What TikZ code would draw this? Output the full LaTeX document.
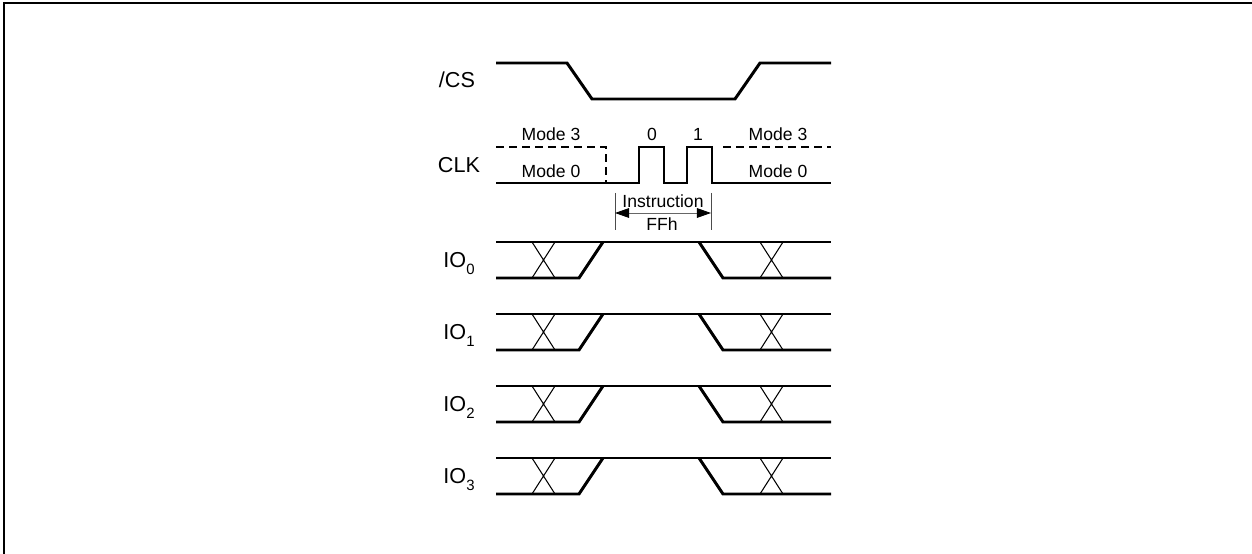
\documentclass[tikz,border=0pt]{standalone}
\usepackage{fontspec}
\setmainfont{Liberation Sans}
\usetikzlibrary{arrows.meta}

\newcommand{\lowsub}[1]{\raisebox{-4.3pt}{\fontsize{8.5}{10}\selectfont #1}}

\begin{document}
\begin{tikzpicture}[
  x=0.02cm, y=-0.02cm,
  sig/.style={line width=1.7pt, line join=miter},
  mode/.style={sig, dash pattern=on 4.6pt off 2.8pt},
  xing/.style={line width=0.6pt},
  frame/.style={line width=1.2pt},
  lbl/.style={anchor=base, inner sep=0pt, font=\fontsize{12.3}{14}\selectfont},
  note/.style={anchor=base, inner sep=0pt, font=\fontsize{10}{12}\selectfont},
  dim/.style={line width=0.5pt, draw=black!60,
              {Triangle[length=8pt,width=5.5pt,color=black]}-{Triangle[length=8pt,width=5.5pt,color=black]}},
  tick/.style={line width=0.5pt, draw=black!70},
]
\useasboundingbox (0,0) rectangle (1252,554);
\draw[frame] (4,554) -- (4,3) -- (1252,3);

% chip select
\node[lbl] (cs) at (457,88) {/CS};
\draw[sig] (496,63) -- (567,63) -- (592,99) -- (735,99) -- (760,63) -- (831,63);

% clock
\node[lbl] (clk) at (459,173) {CLK};
\draw[sig] (496,183) -- (639,183) -- (639,147) -- (664,147) -- (664,183)
  -- (687,183) -- (687,147) -- (712,147) -- (712,183) -- (831,183);
\draw[mode] (496,147) -- (606,147) -- (606,183);
\draw[mode] (723,147) -- (831,147);
\node[note] (m3l) at (551,141) {Mode 3};
\node[note] (m0l) at (551,177) {Mode 0};
\node[note] (b0)  at (652,141) {0};
\node[note] (b1)  at (698,141) {1};
\node[note] (m3r) at (778,141) {Mode 3};
\node[note] (m0r) at (778,177) {Mode 0};

% instruction span
\coordinate (tl) at (615,193);
\coordinate (tr) at (711,193);
\coordinate (al) at (615,213);
\coordinate (ar) at (711,213);
\draw[tick] (tl) -- ++(0,37);
\draw[tick] (tr) -- ++(0,37);
\draw[dim] (al) -- (ar);
\node[note] (ins) at (663,208) {Instruction};
\node[note] (ffh) at (662,231) {FFh};

% data lines
\foreach \i/\y in {0/242,1/314,2/386,3/458} {
  \node[lbl] (io\i) at (459,\y+25) {IO\lowsub{\i}};
  \draw[sig] (496,\y) -- (831,\y);
  \draw[sig] (496,\y+36) -- (579,\y+36) -- (603,\y);
  \draw[sig] (699,\y) -- (723,\y+36) -- (831,\y+36);
  \draw[xing] (532,\y+36) -- (555,\y) (532,\y) -- (555,\y+36);
  \draw[xing] (760,\y+36) -- (783,\y) (760,\y) -- (783,\y+36);
}

\end{tikzpicture}
\end{document}
